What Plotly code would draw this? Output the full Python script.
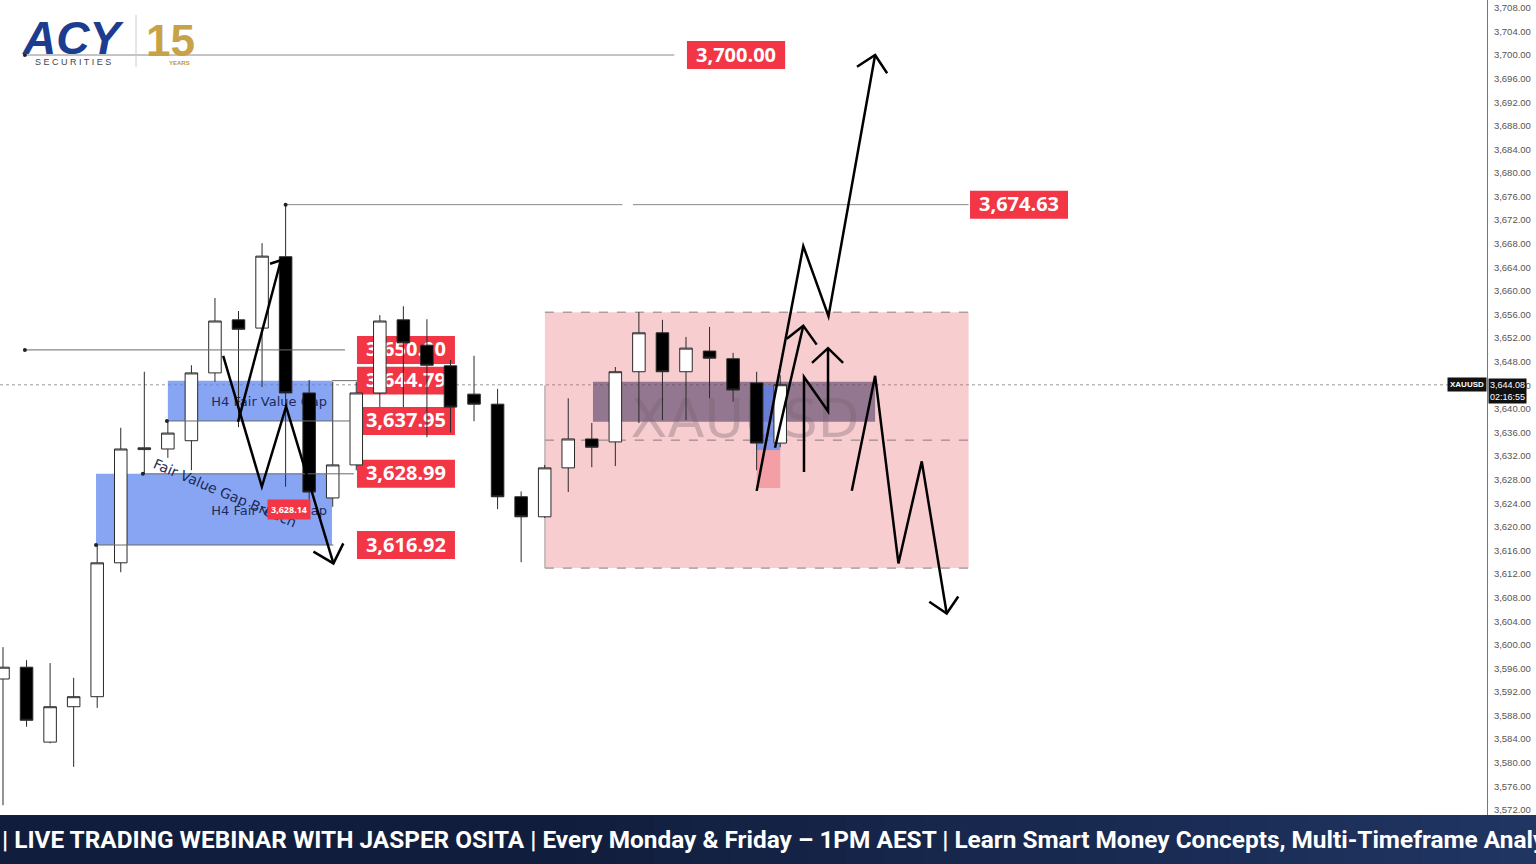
import plotly.graph_objects as go

# ---------------- data ----------------
bar_index = list(range(34))
opens  = [3594.2, 3596.2, 3583.5, 3589.5, 3591.2, 3613.9, 3633.1, 3633.2, 3634.6, 3646.1,
          3655.1, 3653.7, 3665.8, 3642.7, 3624.9, 3630.5, 3642.7, 3655.1, 3650.8, 3647.3,
          3642.5, 3640.8, 3625.1, 3621.7, 3630.0, 3634.9, 3634.4, 3646.3, 3652.9, 3646.3,
          3649.8, 3648.5, 3644.4, 3634.2]
highs  = [3599.6, 3597.4, 3596.9, 3594.4, 3616.9, 3636.8, 3646.3, 3637.8, 3647.4, 3658.8,
          3656.6, 3668.1, 3674.6, 3644.9, 3644.6, 3644.6, 3655.9, 3657.4, 3655.2, 3648.3,
          3649.0, 3643.4, 3626.0, 3630.5, 3641.8, 3637.6, 3647.1, 3656.4, 3655.1, 3652.2,
          3653.9, 3649.5, 3646.3, 3645.7]
lows   = [3572.8, 3586.1, 3583.3, 3579.3, 3589.3, 3612.3, 3629.0, 3631.7, 3629.6, 3644.6,
          3636.9, 3643.7, 3626.8, 3624.6, 3623.4, 3629.6, 3640.3, 3640.3, 3635.2, 3636.0,
          3637.9, 3623.0, 3614.0, 3621.5, 3625.9, 3630.1, 3630.3, 3637.6, 3638.1, 3638.1,
          3641.8, 3641.2, 3629.6, 3633.5]
closes = [3596.2, 3587.2, 3589.5, 3591.2, 3613.9, 3633.2, 3633.4, 3635.9, 3646.1, 3654.9,
          3653.5, 3665.9, 3642.7, 3625.9, 3630.5, 3642.7, 3654.9, 3651.2, 3647.4, 3640.3,
          3640.8, 3625.1, 3621.7, 3630.0, 3634.9, 3633.5, 3646.3, 3652.9, 3646.3, 3650.3,
          3648.6, 3643.2, 3634.2, 3644.1]

tick_values = [3572 + 4 * k for k in range(35)]
tick_labels = [f"{v:,.2f}" for v in tick_values]

current_price = 3644.08
level_prices = [3700.00, 3674.63, 3650.00, 3644.79, 3637.95, 3628.99, 3616.92]
level_texts = ["3,700.00", "3,674.63", "3,650.00", "3,644.79", "3,637.95", "3,628.99", "3,616.92"]
breach_price = 3628.14
banner_text = ("| LIVE TRADING WEBINAR WITH JASPER OSITA | Every Monday & Friday \u2013 1PM AEST | "
               "Learn Smart Money Concepts, Multi-Timeframe Analysis")

# hand-drawn projections (bar index, price)
drawings = [
    [(32.0, 3626.1), (33.98, 3667.6), (35.05, 3655.7), (37.03, 3700.0)],
    [(36.26, 3698.0), (37.03, 3700.0), (37.54, 3696.9)],
    [(32.78, 3633.4), (33.98, 3654.1)],
    [(33.28, 3651.9), (33.98, 3654.1), (34.55, 3650.9)],
    [(34.01, 3629.3), (34.01, 3645.4), (35.03, 3639.6), (35.03, 3650.3)],
    [(34.35, 3647.8), (35.03, 3650.3), (35.67, 3647.8)],
    [(36.04, 3626.1), (37.03, 3645.6), (38.02, 3613.8), (39.01, 3631.1), (40.07, 3605.3)],
    [(39.33, 3607.3), (40.07, 3605.3), (40.56, 3608.2)],
    [(9.35, 3649.0), (10.99, 3626.8), (12.02, 3640.4), (14.03, 3613.8)],
    [(13.18, 3615.8), (14.03, 3613.8), (14.45, 3617.2)],
    [(9.98, 3637.8), (11.80, 3665.2)],
    [(11.34, 3664.6), (11.80, 3665.2)],
]

# ---------------- figure ----------------
fig = go.Figure()
fig.add_trace(go.Candlestick(
    x=bar_index, open=opens, high=highs, low=lows, close=closes,
    increasing=dict(fillcolor="white", line=dict(color="#2a2a2a", width=1)),
    decreasing=dict(fillcolor="black", line=dict(color="#2a2a2a", width=1)),
    whiskerwidth=0, showlegend=False, hoverinfo="skip",
))

RED = "#f23645"
shapes = []
annotations = []

# pink zone
shapes.append(dict(type="rect", xref="x", yref="y", x0=23.01, x1=41.0, y0=3613.0, y1=3656.4,
                   fillcolor="rgba(232,90,100,0.30)", line=dict(width=0), layer="below"))
for yv in (3656.4, 3613.0, 3634.7):
    shapes.append(dict(type="line", xref="x", yref="y", x0=23.01, x1=41.0, y0=yv, y1=yv,
                       line=dict(color="#8a7a7c", width=1, dash="dash"), layer="below"))
shapes.append(dict(type="line", xref="x", yref="y", x0=23.01, x1=23.01, y0=3613.0, y1=3644.0,
                   line=dict(color="#9a9a9a", width=1), layer="below"))
# purple band
shapes.append(dict(type="rect", xref="x", yref="y", x0=25.05, x1=37.03, y0=3637.8, y1=3644.6,
                   fillcolor="rgba(80,60,100,0.60)", line=dict(width=0), layer="below"))
# watermark
shapes.append(dict(type="rect", xref="x", yref="y", x0=27.0, x1=36.0, y0=3634.0, y1=3644.0,
                   fillcolor="rgba(0,0,0,0)", line=dict(width=0), layer="below",
                   label=dict(text="XAUUSD", textposition="middle center",
                              font=dict(family="DejaVu Sans", size=54, color="rgba(120,100,110,0.35)"))))
# long position tool
shapes.append(dict(type="rect", xref="x", yref="y", x0=32.0, x1=33.0, y0=3633.0, y1=3644.0,
                   fillcolor="rgba(90,130,235,0.75)", line=dict(width=0), layer="below"))
shapes.append(dict(type="rect", xref="x", yref="y", x0=32.0, x1=33.0, y0=3626.6, y1=3633.0,
                   fillcolor="rgba(240,120,130,0.55)", line=dict(width=0), layer="below"))

# FVG boxes
fvg_font = dict(family="DejaVu Sans", size=13, color="#1c2b5a")
shapes.append(dict(type="rect", xref="x", yref="y", x0=7.0, x1=13.97, y0=level_prices[4], y1=level_prices[3],
                   fillcolor="rgba(90,130,240,0.72)", line=dict(width=0), layer="below",
                   label=dict(text="H4 Fair Value Gap", textposition="middle right", padding=2, font=fvg_font)))
shapes.append(dict(type="rect", xref="x", yref="y", x0=3.95, x1=13.97, y0=level_prices[6], y1=level_prices[5],
                   fillcolor="rgba(90,130,240,0.72)", line=dict(width=0), layer="below",
                   label=dict(text="H4 Fair Value Gap", textposition="middle right", padding=2, font=fvg_font)))

# price label boxes (beneath candles)
half_h = 2.37
label_x = [(29.04, 33.21), (41.06, 45.22), (15.03, 19.19), (15.03, 19.19), (15.03, 19.19), (15.03, 19.19), (15.03, 19.19)]
for (xa, xb), pv, txt in zip(label_x, level_prices, level_texts):
    shapes.append(dict(type="rect", xref="x", yref="y", x0=xa, x1=xb,
                       y0=pv - half_h, y1=pv + half_h,
                       fillcolor=RED, line=dict(width=0), layer="below",
                       label=dict(text=f"<b>{txt}</b>", textposition="middle center",
                                  font=dict(family="Open Sans", size=20, color="white"))))

# current price dotted line
shapes.append(dict(type="line", xref="paper", yref="y", x0=0, x1=1, y0=current_price, y1=current_price,
                   line=dict(color="#9a9a9a", width=1, dash="dot"), layer="below"))

# horizontal level lines
hlines = [
    (0.93, 28.5, 3700.00, "#8a8a8a"),
    (12.0, 26.3, 3674.63, "#8a8a8a"),
    (26.75, 41.0, 3674.63, "#8a8a8a"),
    (0.93, 14.52, 3650.00, "#6a6a6a"),
    (13.97, 15.03, 3644.79, "#6a6a6a"),
    (6.96, 14.73, 3637.95, "#6a6a6a"),
    (5.94, 14.9, 3628.99, "#6a6a6a"),
    (3.95, 14.03, 3616.92, "#6a6a6a"),
]
for xa, xb, yv, col in hlines:
    shapes.append(dict(type="line", xref="x", yref="y", x0=xa, x1=xb, y0=yv, y1=yv,
                       line=dict(color=col, width=1), layer="above"))
for xa, yv in [(0.93, 3700.0), (0.93, 3650.0), (3.95, 3616.92), (5.94, 3628.99), (6.96, 3637.95), (12.0, 3674.63)]:
    shapes.append(dict(type="circle", xref="x", yref="y", xsizemode="pixel", ysizemode="pixel",
                       xanchor=xa, yanchor=yv, x0=-2, x1=2, y0=-2, y1=2,
                       fillcolor="#222", line=dict(width=0), layer="above"))

# drawings
for pts in drawings:
    path = "M " + " L ".join(f"{px_},{py_}" for px_, py_ in pts)
    shapes.append(dict(type="path", xref="x", yref="y", path=path,
                       line=dict(color="black", width=2.5), layer="above"))

# banner gradient
n_strips = 40
x_end = 1536 / 1487
y_bot = -49 / 815
for k in range(n_strips):
    t = k / (n_strips - 1)
    tt = max(0.0, (t - 0.35) / 0.65)
    r = int(17 + (32 - 17) * tt)
    g = int(29 + (53 - 29) * tt)
    b = int(60 + (98 - 60) * tt)
    shapes.append(dict(type="rect", xref="paper", yref="paper",
                       x0=x_end * k / n_strips, x1=x_end * (k + 1) / n_strips + 0.001,
                       y0=y_bot, y1=0, fillcolor=f"rgb({r},{g},{b})", line=dict(width=0), layer="above"))
annotations.append(dict(xref="paper", yref="paper", x=0.0, y=-0.0295, xanchor="left", yanchor="middle",
                        text=banner_text, showarrow=False,
                        font=dict(family="Roboto", size=24.4, color="white", weight="bold")))

# breach text & small label
annotations.append(dict(xref="x", yref="y", x=9.43, y=3625.7, text="Fair Value Gap Breach", showarrow=False,
                        textangle=23, font=dict(family="DejaVu Sans", size=14, color="#1c2b5a")))
annotations.append(dict(xref="x", yref="y", x=12.14, y=3622.9, text=f"<b>{breach_price:,.2f}</b>", showarrow=False,
                        bgcolor=RED, borderpad=3,
                        font=dict(family="Open Sans", size=9, color="white")))

# right-axis price tag
annotations.append(dict(xref="paper", yref="y", x=1.0, y=current_price, xanchor="right", yanchor="middle",
                        text="<b>XAUUSD</b>", showarrow=False, bgcolor="#111", borderpad=2,
                        font=dict(family="Liberation Sans", size=8, color="white")))
annotations.append(dict(xref="paper", yref="y", x=1.0, y=current_price, xanchor="left", yanchor="top",
                        yshift=7, xshift=1, text=f"{current_price:,.2f}<br>02:16:55", showarrow=False,
                        bgcolor="#111", borderpad=1, align="center",
                        font=dict(family="Liberation Sans", size=9, color="white")))

# logo
def px(xp):
    return xp / 1487
def py(yp):
    return (815 - yp) / 815
logo = [
    (73, 38, "<b><i>ACY</i></b>", 46, "#1b3c8f"),
    (73, 62, "S E C U R I T I E S", 9, "#444444"),
    (170, 40, "<b>15</b>", 44, "#c8a246"),
    (179, 63, "<b>YEARS</b>", 6, "#b8963c"),
]
for lx, ly, txt, sz, col in logo:
    annotations.append(dict(xref="paper", yref="paper", x=px(lx), y=py(ly), xanchor="center", yanchor="middle",
                            text=txt, showarrow=False,
                            font=dict(family="Liberation Sans", size=sz, color=col)))
shapes.append(dict(type="line", xref="paper", yref="paper", x0=px(136), x1=px(136), y0=py(15), y1=py(67),
                   line=dict(color="#cccccc", width=1), layer="above"))

fig.update_layout(
    width=1536, height=864,
    margin=dict(l=0, r=49, t=0, b=49),
    paper_bgcolor="white", plot_bgcolor="white",
    boxgap=0.24,
    shapes=shapes, annotations=annotations,
    showlegend=False,
    xaxis=dict(range=[-0.127, 63.01], visible=False, rangeslider=dict(visible=False), fixedrange=True),
    yaxis=dict(range=[3571.14, 3709.33], side="right", tickvals=tick_values, ticktext=tick_labels,
               showgrid=False, zeroline=False, showline=True, linecolor="#777", linewidth=1,
               ticks="", ticklabelstandoff=4,
               tickfont=dict(family="Liberation Sans", size=9.5, color="#555")),
)

fig.write_html("out.html", config={"displayModeBar": False},
               post_script="document.body.style.margin='0px';document.body.style.overflow='hidden';")
